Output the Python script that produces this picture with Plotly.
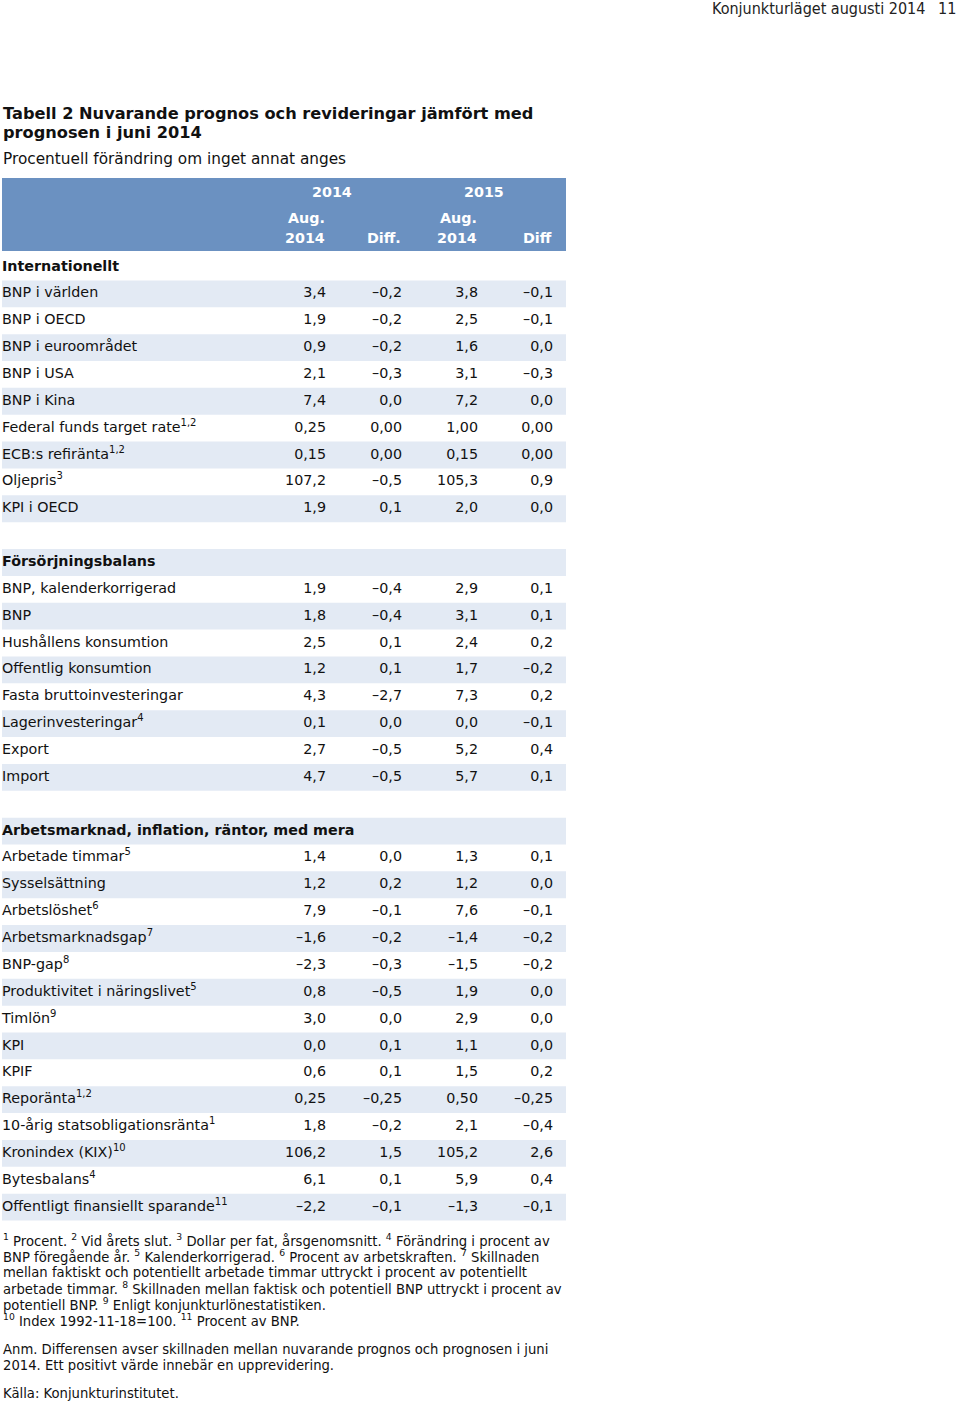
import plotly.graph_objects as go

W, H = 960, 1402
FONT = "DejaVu Sans"
BLUE = "#6b91c1"
LIGHT = "#e3eaf4"
TXT = "#111111"

# ---------------- data ----------------
years = ["2014", "2015"]
sub_headers_top = ["Aug.", "", "Aug.", ""]
sub_headers_bottom = ["2014", "Diff.", "2014", "Diff"]

section_titles = ["Internationellt", "Försörjningsbalans",
                  "Arbetsmarknad, inflation, räntor, med mera"]

intl_labels = ["BNP i världen", "BNP i OECD", "BNP i euroområdet", "BNP i USA",
               "BNP i Kina", "Federal funds target rate", "ECB:s refiränta",
               "Oljepris", "KPI i OECD"]
intl_notes = ["", "", "", "", "", "1,2", "1,2", "3", ""]
intl_aug14 = [3.4, 1.9, 0.9, 2.1, 7.4, 0.25, 0.15, 107.2, 1.9]
intl_diff14 = [-0.2, -0.2, -0.2, -0.3, 0.0, 0.00, 0.00, -0.5, 0.1]
intl_aug15 = [3.8, 2.5, 1.6, 3.1, 7.2, 1.00, 0.15, 105.3, 2.0]
intl_diff15 = [-0.1, -0.1, 0.0, -0.3, 0.0, 0.00, 0.00, 0.9, 0.0]
intl_dec = [1, 1, 1, 1, 1, 2, 2, 1, 1]

fb_labels = ["BNP, kalenderkorrigerad", "BNP", "Hushållens konsumtion",
             "Offentlig konsumtion", "Fasta bruttoinvesteringar",
             "Lagerinvesteringar", "Export", "Import"]
fb_notes = ["", "", "", "", "", "4", "", ""]
fb_aug14 = [1.9, 1.8, 2.5, 1.2, 4.3, 0.1, 2.7, 4.7]
fb_diff14 = [-0.4, -0.4, 0.1, 0.1, -2.7, 0.0, -0.5, -0.5]
fb_aug15 = [2.9, 3.1, 2.4, 1.7, 7.3, 0.0, 5.2, 5.7]
fb_diff15 = [0.1, 0.1, 0.2, -0.2, 0.2, -0.1, 0.4, 0.1]
fb_dec = [1, 1, 1, 1, 1, 1, 1, 1]

am_labels = ["Arbetade timmar", "Sysselsättning", "Arbetslöshet",
             "Arbetsmarknadsgap", "BNP-gap", "Produktivitet i näringslivet",
             "Timlön", "KPI", "KPIF", "Reporänta",
             "10-årig statsobligationsränta", "Kronindex (KIX)",
             "Bytesbalans", "Offentligt finansiellt sparande"]
am_notes = ["5", "", "6", "7", "8", "5", "9", "", "", "1,2", "1", "10", "4", "11"]
am_aug14 = [1.4, 1.2, 7.9, -1.6, -2.3, 0.8, 3.0, 0.0, 0.6, 0.25, 1.8, 106.2, 6.1, -2.2]
am_diff14 = [0.0, 0.2, -0.1, -0.2, -0.3, -0.5, 0.0, 0.1, 0.1, -0.25, -0.2, 1.5, 0.1, -0.1]
am_aug15 = [1.3, 1.2, 7.6, -1.4, -1.5, 1.9, 2.9, 1.1, 1.5, 0.50, 2.1, 105.2, 5.9, -1.3]
am_diff15 = [0.1, 0.0, -0.1, -0.2, -0.2, 0.0, 0.0, 0.0, 0.2, -0.25, -0.4, 2.6, 0.4, -0.1]
am_dec = [1, 1, 1, 1, 1, 1, 1, 1, 1, 2, 1, 1, 1, 1]

footnote_lines = [
    "<sup>1</sup> Procent. <sup>2</sup> Vid årets slut. <sup>3</sup> Dollar per fat, årsgenomsnitt. <sup>4</sup> Förändring i procent av",
    "BNP föregående år. <sup>5</sup> Kalenderkorrigerad. <sup>6</sup> Procent av arbetskraften. <sup>7</sup> Skillnaden",
    "mellan faktiskt och potentiellt arbetade timmar uttryckt i procent av potentiellt",
    "arbetade timmar. <sup>8</sup> Skillnaden mellan faktisk och potentiell BNP uttryckt i procent av",
    "potentiell BNP. <sup>9</sup> Enligt konjunkturlönestatistiken.",
    "<sup>10</sup> Index 1992-11-18=100. <sup>11</sup> Procent av BNP.",
]
anm_lines = [
    "Anm. Differensen avser skillnaden mellan nuvarande prognos och prognosen i juni",
    "2014. Ett positivt värde innebär en upprevidering.",
]
source_line = "Källa: Konjunkturinstitutet."

# ---------------- build rows ----------------
def fmt(v, d):
    s = f"{abs(v):.{d}f}".replace(".", ",")
    return ("\u2013" + s) if v < 0 else s

sections = [
    (intl_labels, intl_notes, intl_aug14, intl_diff14, intl_aug15, intl_diff15, intl_dec),
    (fb_labels, fb_notes, fb_aug14, fb_diff14, fb_aug15, fb_diff15, fb_dec),
    (am_labels, am_notes, am_aug14, am_diff14, am_aug15, am_diff15, am_dec),
]

lab_y, lab_txt = [], []
val_y = []
val_cols = [[], [], [], []]
r = 0
for si, (labs, notes, a14, d14, a15, d15, dec) in enumerate(sections):
    if si > 0:
        r += 1  # blank spacer row
    lab_y.append(r)
    lab_txt.append(f"<b>{section_titles[si]}</b>")
    r += 1
    for i, lab in enumerate(labs):
        lab_y.append(r)
        lab_txt.append(lab + (f"<sup>{notes[i]}</sup>" if notes[i] else ""))
        val_y.append(r)
        for c, arr in zip(val_cols, (a14, d14, a15, d15)):
            c.append(fmt(arr[i], dec[i]))
        r += 1
n_rows = r

# ---------------- geometry (pixels) ----------------
TAB_L, TAB_R = 2, 566
Y0 = 267.0        # pixel centre of first body row
ROW_H = 26.86     # pixel height of a body row
COL_RIGHT = [326, 402, 478, 553]
LABEL_X = 2
HEAD_TOP, HEAD_BOT = 178, 251

def py(p):
    return 1 - p / H

fig = go.Figure()

# row labels
fig.add_trace(go.Scatter(
    x=[LABEL_X] * len(lab_y), y=lab_y, text=lab_txt, mode="text",
    textposition="middle right", hoverinfo="skip",
    textfont=dict(family=FONT, size=14.3, color=TXT)))

# value columns
for k in range(4):
    fig.add_trace(go.Scatter(
        x=[COL_RIGHT[k]] * len(val_y), y=val_y, text=val_cols[k], mode="text",
        textposition="middle left", hoverinfo="skip",
        textfont=dict(family=FONT, size=14.3, color=TXT)))

# stripes and header band
shapes = []
for i in range(n_rows):
    if i % 2 == 1:
        shapes.append(dict(type="rect", xref="x", yref="y", x0=TAB_L, x1=TAB_R,
                           y0=i - 0.5, y1=i + 0.5, fillcolor=LIGHT,
                           line=dict(width=0), layer="below"))
shapes.append(dict(type="rect", xref="x", yref="paper", x0=TAB_L, x1=TAB_R,
                   y0=py(HEAD_BOT), y1=py(HEAD_TOP), fillcolor=BLUE,
                   line=dict(width=0), layer="below"))

ann = []
def add(text, x, y, size, xanchor="left", bold=False, color=TXT, family=FONT, xref="paper"):
    ann.append(dict(text=(f"<b>{text}</b>" if bold else text),
                    x=(x / W if xref == "paper" else x), y=py(y),
                    xref=xref, yref="paper", xanchor=xanchor, yanchor="middle",
                    showarrow=False, align="left", borderpad=0,
                    font=dict(family=family, size=size, color=color)))

# page header
PH_FONT = "DejaVu Sans Condensed, Liberation Sans Narrow, DejaVu Sans"
add("Konjunkturläget augusti 2014", 926, 9, 16, xanchor="right", family=PH_FONT, color="#222")
add("11", 957, 9, 16, xanchor="right", family=PH_FONT, color="#222")

# titles
add("Tabell 2 Nuvarande prognos och revideringar jämfört med", 2, 113, 16.2, bold=True)
add("prognosen i juni 2014", 2, 132, 16.2, bold=True)
add("Procentuell förändring om inget annat anges", 2, 159, 15.3)

# column headers
add(years[0], 332, 192, 14.3, xanchor="center", bold=True, color="white", xref="x")
add(years[1], 484, 192, 14.3, xanchor="center", bold=True, color="white", xref="x")
for k in range(4):
    if sub_headers_top[k]:
        add(sub_headers_top[k], COL_RIGHT[k], 218, 14.3, xanchor="right", bold=True,
            color="white", xref="x")
    add(sub_headers_bottom[k], COL_RIGHT[k], 238, 14.3, xanchor="right", bold=True,
        color="white", xref="x")

# footnotes
for i, line in enumerate(footnote_lines):
    add(line, 2, 1240 + 16 * i, 13.2)
for i, line in enumerate(anm_lines):
    add(line, 2, 1349 + 16 * i, 13.2)
add(source_line, 2, 1393, 13.2)

fig.update_layout(
    width=W, height=H, margin=dict(l=0, r=0, t=0, b=0),
    paper_bgcolor="white", plot_bgcolor="white",
    xaxis=dict(range=[0, W], visible=False, fixedrange=True),
    yaxis=dict(range=[(H - Y0) / ROW_H, -Y0 / ROW_H], visible=False, fixedrange=True),
    shapes=shapes, annotations=ann, showlegend=False)

fig.write_html("out.html", config={"displayModeBar": False},
               post_script="document.body.style.margin='0';")
